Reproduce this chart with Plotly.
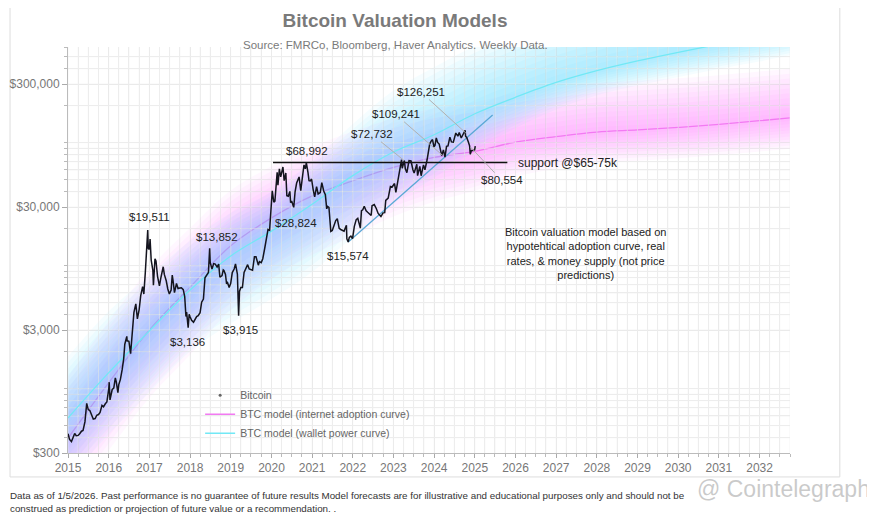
import numpy as np
import pandas as pd
import plotly.graph_objects as go

# weekly-ish bitcoin closes
btc_dates = [
    "2016-01-01", "2016-01-15", "2016-02-01", "2016-02-15", "2016-03-01", "2016-03-15", "2016-04-01", "2016-04-15",
    "2016-05-01", "2016-05-15", "2016-06-01", "2016-06-17", "2016-07-01", "2016-07-15", "2016-08-01", "2016-08-15",
    "2016-09-01", "2016-09-15", "2016-10-01", "2016-10-15", "2016-11-01", "2016-11-15", "2016-12-01", "2016-12-15",
    "2017-01-01", "2017-01-05", "2017-01-12", "2017-02-01", "2017-02-15", "2017-03-01", "2017-03-10", "2017-03-24",
    "2017-04-01", "2017-04-15", "2017-05-01", "2017-05-15", "2017-05-25", "2017-06-01", "2017-06-12", "2017-06-15",
    "2017-07-01", "2017-07-16", "2017-08-01", "2017-08-15", "2017-09-01", "2017-09-15", "2017-10-01", "2017-10-15",
    "2017-11-01", "2017-11-12", "2017-11-25", "2017-12-01", "2017-12-10", "2017-12-17", "2017-12-22",
    "2018-01-01", "2018-01-07", "2018-01-17", "2018-02-01", "2018-02-06", "2018-02-20", "2018-03-01", "2018-03-15",
    "2018-04-01", "2018-04-15", "2018-05-05", "2018-05-15", "2018-06-01", "2018-06-15", "2018-06-29", "2018-07-15",
    "2018-07-25", "2018-08-01", "2018-08-14", "2018-09-01", "2018-09-15", "2018-10-01", "2018-10-15", "2018-11-01",
    "2018-11-14", "2018-11-25", "2018-12-01", "2018-12-15", "2018-12-24",
    "2019-01-01", "2019-01-15", "2019-02-01", "2019-02-15", "2019-03-01", "2019-03-15", "2019-04-01", "2019-04-15",
    "2019-05-01", "2019-05-15", "2019-06-01", "2019-06-15", "2019-06-26", "2019-07-01", "2019-07-17", "2019-08-01",
    "2019-08-15", "2019-09-01", "2019-09-15", "2019-09-26", "2019-10-15", "2019-10-26", "2019-11-01", "2019-11-15",
    "2019-11-25", "2019-12-01", "2019-12-18",
    "2020-01-01", "2020-01-15", "2020-02-01", "2020-02-13", "2020-03-01", "2020-03-12", "2020-03-20", "2020-04-01",
    "2020-04-15", "2020-04-30", "2020-05-15", "2020-06-01", "2020-06-15", "2020-07-01", "2020-07-15", "2020-08-01",
    "2020-08-15", "2020-09-05", "2020-09-15", "2020-10-01", "2020-10-15", "2020-11-01", "2020-11-15", "2020-12-01",
    "2020-12-15", "2020-12-27",
    "2021-01-08", "2021-01-22", "2021-02-01", "2021-02-15", "2021-02-21", "2021-02-28", "2021-03-13", "2021-03-25",
    "2021-04-14", "2021-04-25", "2021-05-10", "2021-05-19", "2021-06-01", "2021-06-15", "2021-06-22", "2021-07-01",
    "2021-07-20", "2021-08-01", "2021-08-15", "2021-09-06", "2021-09-21", "2021-10-01", "2021-10-15", "2021-10-20",
    "2021-11-01", "2021-11-10", "2021-11-25", "2021-12-04", "2021-12-15", "2021-12-27",
    "2022-01-10", "2022-01-24", "2022-02-10", "2022-02-24", "2022-03-15", "2022-03-29", "2022-04-15", "2022-04-30",
    "2022-05-12", "2022-05-20", "2022-06-01", "2022-06-18", "2022-07-01", "2022-07-15", "2022-08-01", "2022-08-15",
    "2022-09-01", "2022-09-15", "2022-10-01", "2022-10-15", "2022-11-05", "2022-11-09", "2022-11-21", "2022-12-01",
    "2022-12-15", "2022-12-30",
    "2023-01-15", "2023-02-01", "2023-02-15", "2023-03-10", "2023-03-20", "2023-04-01", "2023-04-14", "2023-05-01",
    "2023-05-15", "2023-06-15", "2023-06-23", "2023-07-13", "2023-07-31", "2023-08-17", "2023-09-11", "2023-09-30",
    "2023-10-15", "2023-10-24", "2023-11-15", "2023-12-05", "2023-12-20",
    "2024-01-11", "2024-01-23", "2024-02-15", "2024-03-05", "2024-03-14", "2024-03-20", "2024-04-08", "2024-04-17",
    "2024-05-01", "2024-05-20", "2024-06-07", "2024-06-24", "2024-07-05", "2024-07-29", "2024-08-05", "2024-08-25",
    "2024-09-06", "2024-09-27", "2024-10-10", "2024-10-29", "2024-11-15", "2024-11-22", "2024-12-05", "2024-12-17",
    "2024-12-30",
    "2025-01-08", "2025-01-20", "2025-02-01", "2025-02-15", "2025-02-28", "2025-03-10", "2025-03-25", "2025-04-08",
    "2025-04-22", "2025-05-05", "2025-05-22", "2025-06-05", "2025-06-22", "2025-07-14", "2025-08-02", "2025-08-14",
    "2025-09-01", "2025-09-15", "2025-10-06", "2025-10-10", "2025-10-20", "2025-11-04", "2025-11-15", "2025-11-21",
    "2025-12-01", "2025-12-15", "2025-12-30", "2026-01-05",
]
btc_prices = [
    430, 387, 372, 405, 432, 415, 417, 430,
    451, 457, 537, 760, 676, 664, 606, 567,
    572, 608, 616, 640, 731, 712, 754, 780,
    998, 1130, 810, 985, 1010, 1222, 1130, 930,
    1080, 1185, 1420, 1750, 2300, 2400, 2660, 2450,
    2430, 1930, 2720, 4170, 4900, 3700, 4400, 5700,
    6750, 5880, 8750, 10900, 15200, 19511, 13800,
    13600, 16500, 11100, 9170, 6950, 11400, 10950, 8200,
    6850, 8060, 9800, 8500, 7540, 6470, 5880, 6350,
    8400, 7600, 6050, 7170, 6520, 6590, 6620, 6380,
    5620, 3860, 4200, 3136, 4030,
    3850, 3600, 3470, 3620, 3860, 3920, 4150, 5050,
    5350, 7980, 8560, 8800, 13852, 10600, 9400, 10400,
    10300, 9750, 10300, 8050, 8300, 9250, 9150, 8500,
    7100, 7400, 6640,
    7200, 8800, 9400, 10350, 8550, 3915, 6200, 6640,
    6640, 8800, 9370, 10200, 9400, 9230, 9180, 11800,
    11800, 10100, 10800, 10600, 11400, 13800, 15900, 19700,
    19400, 28824,
    40600, 32900, 33500, 48700, 57500, 45200, 61200, 52800,
    63500, 49100, 56700, 37000, 36700, 40200, 32500, 33600,
    29800, 39900, 47000, 52700, 40700, 48200, 61600, 66000,
    61300, 68992, 57200, 49100, 48900, 50700,
    41800, 36300, 44000, 38300, 39300, 47400, 40500, 37700,
    29000, 30300, 29800, 19000, 19300, 20800, 23300, 24100,
    20100, 19700, 19300, 19100, 21300, 16500, 15574, 17000,
    17400, 16600,
    20900, 23700, 24300, 20200, 28000, 28500, 30400, 28000,
    27200, 25600, 30700, 31400, 29200, 26600, 25100, 26900,
    27000, 34000, 35500, 44000, 43600,
    46600, 39500, 51900, 63000, 72732, 62000, 71600, 61300,
    57000, 71400, 71000, 60300, 56600, 66800, 54000, 64100,
    53900, 66000, 60300, 72300, 91000, 98000, 103000, 106000,
    92500,
    95000, 109241, 100600, 97500, 84400, 78500, 87400, 76300,
    93500, 94300, 111000, 101500, 101000, 119800, 113000, 121000,
    109200, 115300, 126251, 113000, 110500, 101500, 94400, 80554,
    86300, 86400, 87500, 93800,
]

# model curves (centre lines) and the reach of their glow above / below, in decades
model_dates = ["2016-01-01", "2017-01-01", "2018-01-01", "2019-01-01", "2020-01-01", "2021-01-01",
               "2022-01-01", "2023-01-01", "2024-01-01", "2025-01-01", "2026-01-01", "2027-01-01",
               "2028-01-01", "2029-01-01", "2030-01-01", "2031-01-01", "2032-01-01", "2033-01-01",
               "2033-10-01"]
internet_model = [397, 1120, 3000, 6700, 14500, 24500, 37000, 49000, 63000, 76000, 85000, 101000,
                  112000, 122000, 127000, 133000, 141000, 151000, 159000]
wallet_model = [578, 1350, 2950, 6340, 12000, 19100, 31600, 54000, 84000, 116000, 172000, 234000,
                309000, 385000, 462000, 543000, 631000, 724000, 813000]
internet_up = [0.5, 0.5, 0.5, 0.48, 0.45, 0.42, 0.4, 0.4, 0.4, 0.4, 0.4, 0.4,
               0.4, 0.4, 0.4, 0.4, 0.4, 0.4, 0.4]
internet_dn = [0.55, 0.55, 0.55, 0.55, 0.52, 0.5, 0.48, 0.45, 0.4, 0.36, 0.32, 0.28,
               0.26, 0.25, 0.25, 0.25, 0.25, 0.25, 0.25]
wallet_up = [0.5, 0.5, 0.45, 0.4, 0.35, 0.32, 0.35, 0.42, 0.5, 0.55, 0.55, 0.55,
             0.55, 0.55, 0.55, 0.55, 0.55, 0.55, 0.55]
wallet_dn = [0.5, 0.5, 0.5, 0.5, 0.55, 0.55, 0.55, 0.5, 0.42, 0.35, 0.3, 0.25,
             0.22, 0.2, 0.2, 0.2, 0.2, 0.2, 0.2]

support_x = ["2021-01-15", "2026-10-20"]
support_y = [69000, 69000]
trend_x = ["2022-11-21", "2026-06-10"]
trend_y = [15574, 168000]

tick_dates = ["%d-01-01" % y for y in range(2016, 2034)]
year_labels = [str(y) for y in range(2015, 2033)]
price_ticks = [300, 3000, 30000, 300000]
price_labels = ["$300", "$3,000", "$30,000", "$300,000"]
x_range = ["2016-01-01", "2033-10-01"]
y_range = [300, 600000]

fig = go.Figure()

def add_glow(center, up, dn, rgb, alpha, n=10):
    c = np.array(center, dtype=float)
    up = np.array(up)
    dn = np.array(dn)
    for k in range(n, 0, -1):
        f = k / n
        fig.add_trace(go.Scatter(x=model_dates, y=c / 10 ** (dn * f), mode='lines',
                                 line=dict(width=0, shape='spline'), hoverinfo='skip', showlegend=False))
        fig.add_trace(go.Scatter(x=model_dates, y=c * 10 ** (up * f), mode='lines',
                                 line=dict(width=0, shape='spline'), fill='tonexty',
                                 fillcolor='rgba(%s,%s)' % (rgb, alpha), hoverinfo='skip', showlegend=False))

add_glow(internet_model, internet_up, internet_dn, '255,90,255', 0.048)
fig.add_trace(go.Scatter(x=model_dates, y=internet_model, mode='lines', name='BTC model (internet adoption curve)',
                         line=dict(color='#f27af2', width=1.3, shape='spline'), legendrank=2))
add_glow(wallet_model, wallet_up, wallet_dn, '90,215,255', 0.06)

# light grid laid over the glow, like the original
quarters = pd.date_range(x_range[0], x_range[1], freq='QS')
gx, gy = [], []
for d in quarters:
    gx += [d, d, None]
    gy += [y_range[0], y_range[1], None]
for e in range(2, 6):
    for m in range(1, 10):
        v = m * 10 ** e
        if y_range[0] < v < y_range[1]:
            gx += [x_range[0], x_range[1], None]
            gy += [v, v, None]
fig.add_trace(go.Scatter(x=gx, y=gy, mode='lines', line=dict(color='rgba(238,238,238,0.55)', width=1),
                         hoverinfo='skip', showlegend=False))

fig.add_trace(go.Scatter(x=model_dates, y=wallet_model, mode='lines', name='BTC model (wallet power curve)',
                         line=dict(color='#72e8f5', width=1.3, shape='spline'), legendrank=3))

fig.add_trace(go.Scatter(x=trend_x, y=trend_y, mode='lines', line=dict(color='#5aa8d6', width=1.3),
                         showlegend=False, hoverinfo='skip'))
fig.add_trace(go.Scatter(x=support_x, y=support_y, mode='lines', line=dict(color='#111111', width=1.4),
                         showlegend=False, hoverinfo='skip'))
fig.add_trace(go.Scatter(x=btc_dates, y=btc_prices, mode='lines', line=dict(color='#14141e', width=1.5),
                         showlegend=False))
# legend entry only
fig.add_trace(go.Scatter(x=[None], y=[None], mode='markers', name='Bitcoin',
                         marker=dict(color='#666666', size=3), legendrank=1))

lab_font = dict(size=11.5, color='#222222')
labels = [
    ("2018-01-04", 24900, "$19,511"),
    ("2019-08-29", 17100, "$13,852"),
    ("2018-12-13", 2400, "$3,136"),
    ("2020-03-25", 3000, "$3,915"),
    ("2021-08-07", 22200, "$28,824"),
    ("2021-11-13", 85500, "$68,992"),
    ("2022-11-17", 12000, "$15,574"),
]
for x, y, t in labels:
    fig.add_annotation(x=x, y=np.log10(y), text=t, showarrow=False, font=lab_font)

leaders = [
    ("2024-04-03", 72000, "$72,732", -32, -26),
    ("2025-03-17", 79000, "$109,241", -47, -41),
    ("2025-10-12", 120000, "$126,251", -45, -41),
    ("2025-11-24", 92000, "$80,554", 31, 33),
]
for x, y, t, ax, ay in leaders:
    fig.add_annotation(x=x, y=np.log10(y), text=t, showarrow=True, arrowhead=0, arrowwidth=1,
                       arrowcolor='#b0b0b0', ax=ax, ay=ay, font=lab_font)

fig.add_annotation(xref='paper', x=0.6205, y=np.log10(69000), text="support @$65-75k", showarrow=False,
                   xanchor='left', font=dict(size=12, color='#222222'))
fig.add_annotation(xref='paper', yref='paper', x=0.831, y=0.4926,
                   text="Bitcoin valuation model based on<br>hypotehtical adoption curve, real<br>"
                        "rates, & money supply (not price<br>predictions)",
                   showarrow=False, align='center', font=dict(size=11, color='#222222'))

fig.add_annotation(xref='paper', yref='paper', x=0.453, y=1.0246, text="Source: FMRCo, Bloomberg, Haver Analytics. Weekly Data.",
                   showarrow=False, font=dict(size=11.5, color='#7a7a7a'))
fig.add_annotation(xref='paper', yref='paper', x=-0.083, y=-0.155, xanchor='left', align='left',
                   text="Data as of 1/5/2026. Past performance is no guarantee of future results Model forecasts are for "
                        "illustrative and educational purposes only and should not be<br>"
                        "construed as prediction or projection of future value or a recommendation. .",
                   showarrow=False, font=dict(size=9.8, color='#333333'))
fig.add_annotation(xref='paper', yref='paper', x=1.113, y=-0.125, xanchor='right',
                   text="@ Cointelegraph", showarrow=False, font=dict(size=23, color='rgba(150,150,150,0.5)'))

fig.add_shape(type='rect', xref='paper', yref='paper', x0=-0.0803, x1=1.069, y0=-0.059, y1=1.103,
              line=dict(color='#dddddd', width=1), layer='below')

fig.update_xaxes(type='date', range=x_range, tickvals=tick_dates, ticktext=year_labels,
                 automargin=False,
                 showgrid=True, gridcolor='#e8e8e8', ticks='outside', ticklen=4, tickcolor='#aaaaaa',
                 showline=True, linecolor='#bbbbbb', tickfont=dict(size=12, color='#777777'),
                 minor=dict(tickmode='linear', tick0="2016-01-01", dtick="M3", showgrid=True,
                            gridcolor='#ececec', ticks='outside', ticklen=3, tickcolor='#bbbbbb'))
fig.update_yaxes(type='log', range=[np.log10(y_range[0]), np.log10(y_range[1])], tickvals=price_ticks,
                 ticktext=price_labels, automargin=False,
                 showgrid=True, gridcolor='#e8e8e8', ticks='outside',
                 ticklen=5, tickcolor='#aaaaaa', showline=True, linecolor='#bbbbbb',
                 tickfont=dict(size=12, color='#777777'),
                 minor=dict(dtick='D1', showgrid=True, gridcolor='#ececec', ticks='outside', ticklen=3,
                            tickcolor='#bbbbbb'))

fig.update_layout(
    width=867, height=512, autosize=False,
    margin=dict(l=60, r=85, t=39, b=67),
    plot_bgcolor='white', paper_bgcolor='white',
    font=dict(family='Liberation Sans, Arial, sans-serif'),
    title=dict(text="<b>Bitcoin Valuation Models</b>", x=0.4464, xanchor='center', y=0.9766, yanchor='middle',
               font=dict(size=19, color='#7a7a7a', family='Liberation Sans Narrow, Arial Narrow, Liberation Sans, sans-serif')),
    legend=dict(x=0.183, y=0.178, xanchor='left', yanchor='top', bgcolor='rgba(0,0,0,0)', traceorder='normal',
                font=dict(size=10.5, color='#666666'), tracegroupgap=0, itemwidth=30),
    showlegend=True,
)

fig.write_html("out.html")
